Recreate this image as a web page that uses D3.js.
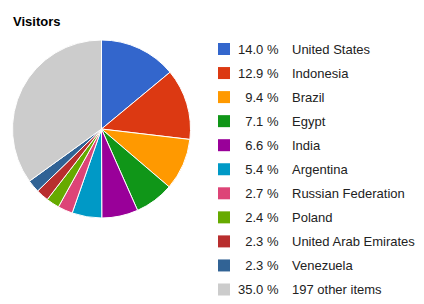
<!DOCTYPE html>
<html>
<head>
<meta charset="utf-8">
<script src="https://cdn.jsdelivr.net/npm/d3@7"></script>
<style>
  html, body { margin: 0; padding: 0; background: #fff; }
  svg { display: block; font-family: Arial, "Liberation Sans", sans-serif; }
</style>
</head>
<body>
<svg id="chart" width="424" height="304"></svg>
<script>
// Visitor share by country
const countries = ["United States", "Indonesia", "Brazil", "Egypt", "India", "Argentina",
  "Russian Federation", "Poland", "United Arab Emirates", "Venezuela", "197 other items"];
const shares = [14.0, 12.9, 9.4, 7.1, 6.6, 5.4, 2.7, 2.4, 2.3, 2.3, 35.0];
const palette = ["#3366cc", "#dc3912", "#ff9900", "#109618", "#990099", "#0099c6",
  "#dd4477", "#66aa00", "#b82e2e", "#316395", "#cccccc"];

const data = countries.map((name, i) => ({ name, value: shares[i], color: palette[i] }));

const svg = d3.select("#chart");

svg.append("text")
  .attr("x", 13).attr("y", 26)
  .attr("font-size", 13).attr("font-weight", "bold")
  .attr("fill", "#000")
  .text("Visitors");

const cx = 101.5, cy = 129, r = 89;

const pie = d3.pie().value(d => d.value).sort(null);
const arc = d3.arc().innerRadius(0).outerRadius(r);

svg.append("g")
  .attr("transform", `translate(${cx},${cy})`)
  .selectAll("path")
  .data(pie(data))
  .join("path")
  .attr("d", arc)
  .attr("fill", d => d.data.color)
  .attr("stroke", "#fff")
  .attr("stroke-width", 1);

// Legend rows
const y = d3.scalePoint().domain(countries).range([49, 289.5]);

const rows = svg.append("g").selectAll("g")
  .data(data)
  .join("g")
  .attr("transform", d => `translate(0,${y(d.name)})`);

rows.append("rect")
  .attr("x", 218).attr("y", -6)
  .attr("width", 12).attr("height", 12)
  .attr("fill", d => d.color);

rows.append("text")
  .attr("x", 278.5).attr("y", 4.5)
  .attr("text-anchor", "end")
  .attr("font-size", 13).attr("fill", "#222")
  .text(d => d3.format(".1f")(d.value) + " %");

rows.append("text")
  .attr("x", 292).attr("y", 4.5)
  .attr("font-size", 13).attr("fill", "#222")
  .text(d => d.name);
</script>
</body>
</html>
